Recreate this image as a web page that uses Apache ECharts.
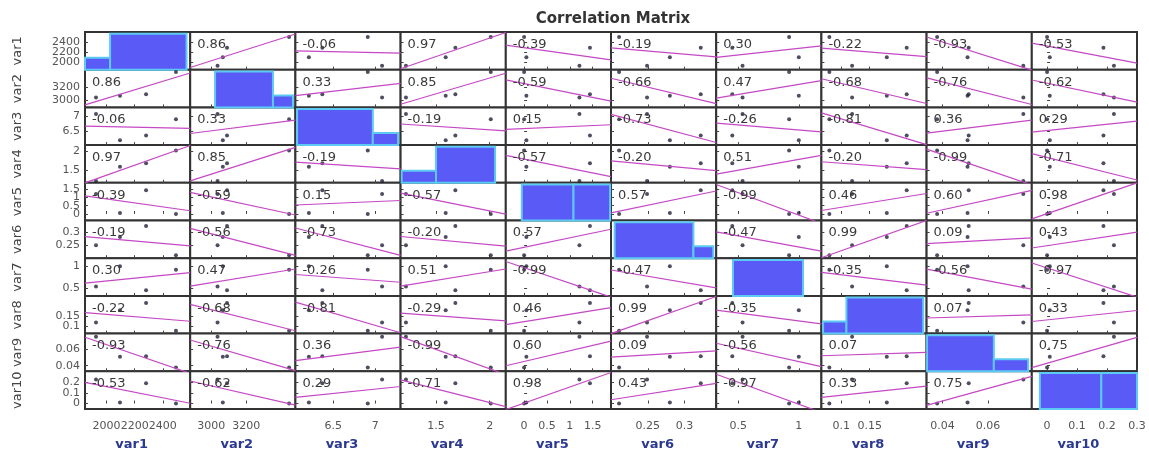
<!DOCTYPE html>
<html>
<head>
<meta charset="UTF-8">
<title>Correlation Matrix</title>
<script src="https://cdn.jsdelivr.net/npm/echarts@6/dist/echarts.min.js"></script>
</head>
<body style="margin:0;background:#fff">
<div id="main" style="width:1149px;height:454px;"></div>
<script>
var names = ['var1','var2','var3','var4','var5','var6','var7','var8','var9','var10'];

// four observations of every variable
var var1  = [1926, 2096, 2281, 2493];
var var2  = [3036, 3066, 3090, 3444];
var var3  = [7.08, 6.21, 6.37, 6.91];
var var4  = [1.22, 1.59, 1.68, 2.01];
var var5  = [1.21, 0.05, 1.44, 0.0];
var var6  = [0.249, 0.280, 0.322, 0.211];
var var7  = [0.535, 1.0, 0.45, 0.92];
var var8  = [0.119, 0.180, 0.215, 0.079];
var var9  = [0.0754, 0.0510, 0.0515, 0.0377];
var var10 = [0.223, 0.009, 0.188, 0.0];
var vars = [var1, var2, var3, var4, var5, var6, var7, var8, var9, var10];

// axis limits and tick labels
var axisMin = [1848, 2880, 6.05, 1.17, -0.4, 0.2, 0.317, 0.065, 0.0331, -0.051];
var axisMax = [2594, 3480, 7.3, 2.15, 1.9, 0.343, 1.187, 0.25, 0.0791, 0.30];
var xTicks = [[2000,2200,2400],[3000,3200],[6.5,7],[1.5,2],[0,0.5,1,1.5],[0.25,0.3],[0.5,1],[0.1,0.15],[0.04,0.06],[0,0.1,0.2,0.3]];
var yTicks = [[2000,2200,2400],[3000,3200],[6.5,7],[1.5,2],[0,0.5,1,1.5],[0.25,0.3],[0.5,1],[0.1,0.15],[0.04,0.06],[0,0.1,0.2]];

// correlation labels as printed
var corr = [
  [1, 0.86, -0.06, 0.97, -0.39, -0.19, 0.30, -0.22, -0.93, -0.53],
  [0.86, 1, 0.33, 0.85, -0.59, -0.66, 0.47, -0.68, -0.76, -0.62],
  [-0.06, 0.33, 1, -0.19, 0.15, -0.73, -0.26, -0.81, 0.36, 0.29],
  [0.97, 0.85, -0.19, 1, -0.57, -0.20, 0.51, -0.20, -0.99, -0.71],
  [-0.39, -0.59, 0.15, -0.57, 1, 0.57, -0.99, 0.46, 0.60, 0.98],
  [-0.19, -0.56, -0.73, -0.20, 0.57, 1, -0.47, 0.99, 0.09, 0.43],
  [0.30, 0.47, -0.26, 0.51, -0.99, -0.47, 1, -0.35, -0.56, -0.97],
  [-0.22, -0.68, -0.81, -0.29, 0.46, 0.99, -0.35, 1, 0.07, 0.33],
  [-0.93, -0.76, 0.36, -0.99, 0.60, 0.09, -0.56, 0.07, 1, 0.75],
  [-0.53, -0.62, 0.29, -0.71, 0.98, 0.43, -0.97, 0.33, 0.75, 1]
];

// diagonal histograms: bin edges and counts
var histEdges = [
  [1848, 2026, 2568], [3022, 3352, 3466], [6.07, 6.97, 7.27], [1.18, 1.50, 2.05], [-0.05, 1.08, 1.88],
  [0.205, 0.312, 0.339], [0.456, 1.035], [0.068, 0.109, 0.244], [0.0333, 0.0625, 0.0775], [-0.024, 0.181, 0.30]
];
var histCounts = [[1,3],[3,1],[3,1],[1,3],[2,2],[3,1],[4],[1,3],[3,1],[2,2]];

var N = 10, L = 85, T = 32, CW = 105.2, CH = 37.7;
var FONT = 'DejaVu Sans';

function fmt(v) { return String(v); }

function tickLabel(show, ticks, margin) {
  return {
    show: show, customValues: ticks, formatter: fmt, hideOverlap: false,
    fontSize: 11, color: '#555', fontFamily: FONT, margin: margin
  };
}

var grids = [], xAxes = [], yAxes = [], series = [], graphics = [];

for (var i = 0; i < N; i++) {
  for (var j = 0; j < N; j++) {
    var g = i * N + j;
    grids.push({
      left: L + j * CW, top: T + i * CH, width: CW, height: CH,
      show: true, borderColor: '#333', borderWidth: 2, backgroundColor: '#fff'
    });
    xAxes.push({
      gridIndex: g, type: 'value', min: axisMin[j], max: axisMax[j],
      axisLine: {show: false}, splitLine: {show: false},
      axisTick: {show: true, inside: true, length: 3, customValues: xTicks[j], lineStyle: {color: '#444'}},
      axisLabel: tickLabel(i === N - 1, xTicks[j], 12)
    });
    if (i === j) {
      var maxC = Math.max.apply(null, histCounts[i]);
      yAxes.push({gridIndex: g, type: 'value', min: 0, max: maxC * 1.047, show: false});
      var bins = [];
      for (var b = 0; b < histCounts[i].length; b++) {
        bins.push([histEdges[i][b], histEdges[i][b + 1], histCounts[i][b]]);
      }
      series.push({
        type: 'custom', xAxisIndex: g, yAxisIndex: g, data: bins, silent: true,
        encode: {x: [0, 1], y: 2},
        renderItem: function (params, api) {
          var p0 = api.coord([api.value(0), 0]);
          var p1 = api.coord([api.value(1), api.value(2)]);
          return {
            type: 'rect',
            shape: {x: p0[0], y: p1[1], width: p1[0] - p0[0], height: p0[1] - p1[1]},
            style: {fill: '#5a5af6', stroke: '#5ccaf2', lineWidth: 2}
          };
        }
      });
    } else {
      yAxes.push({
        gridIndex: g, type: 'value', min: axisMin[i], max: axisMax[i],
        axisLine: {show: false}, splitLine: {show: false},
        axisTick: {show: true, inside: true, length: 3, customValues: yTicks[i], lineStyle: {color: '#444'}},
        axisLabel: {show: false}
      });
      var xs = vars[j], ys = vars[i];
      var pts = xs.map(function (x, k) { return [x, ys[k]]; });
      // least squares fit across the cell
      var mx = 0, my = 0;
      for (var k = 0; k < xs.length; k++) { mx += xs[k]; my += ys[k]; }
      mx /= xs.length; my /= ys.length;
      var sxy = 0, sxx = 0;
      for (k = 0; k < xs.length; k++) { sxy += (xs[k] - mx) * (ys[k] - my); sxx += (xs[k] - mx) * (xs[k] - mx); }
      var slope = sxy / sxx, icpt = my - slope * mx;
      series.push({
        type: 'line', xAxisIndex: g, yAxisIndex: g, silent: true, showSymbol: false, clip: true,
        data: [[axisMin[j], icpt + slope * axisMin[j]], [axisMax[j], icpt + slope * axisMax[j]]],
        lineStyle: {color: '#c548c5', width: 1.2}
      });
      series.push({
        type: 'scatter', xAxisIndex: g, yAxisIndex: g, silent: true, symbolSize: 4,
        data: pts, itemStyle: {color: '#22223a'}
      });
      graphics.push({
        type: 'text', x: L + j * CW + 7, y: T + i * CH + 12.5, z: 100,
        style: {text: corr[i][j].toFixed(2), fontSize: 13, fontFamily: FONT, fill: '#3a3a3a', textVerticalAlign: 'middle'}
      });
    }
  }
}

// left tick labels: crowded, so split every row over two label-only axes
for (i = 0; i < N; i++) {
  var even = yTicks[i].filter(function (v, n) { return n % 2 === 0; });
  var odd = yTicks[i].filter(function (v, n) { return n % 2 === 1; });
  [even, odd].forEach(function (vals, n) {
    yAxes.push({
      gridIndex: i * N, type: 'value', position: 'left', min: axisMin[i], max: axisMax[i],
      axisLine: {show: false}, splitLine: {show: false},
      axisTick: {show: i === 0, inside: true, length: 3, customValues: vals, lineStyle: {color: '#444'}},
      axisLabel: tickLabel(vals.length > 0, vals, 5)
    });
  });
}

for (i = 0; i < N; i++) {
  graphics.push({
    type: 'text', x: 18, y: T + i * CH + CH / 2, rotation: Math.PI / 2,
    style: {text: names[i], fontSize: 13, fontFamily: FONT, fill: '#444', textAlign: 'center', textVerticalAlign: 'middle'}
  });
  graphics.push({
    type: 'text', x: L + i * CW + CW / 2 - 6, y: 445,
    style: {text: names[i], fontSize: 13, fontWeight: 'bold', fontFamily: FONT, fill: '#2b3990', textAlign: 'center', textVerticalAlign: 'middle'}
  });
}
graphics.push({
  type: 'text', x: L + N * CW / 2 + 2, y: 19,
  style: {text: 'Correlation Matrix', fontSize: 15, fontWeight: 'bold', fontFamily: FONT, fill: '#333', textAlign: 'center', textVerticalAlign: 'middle'}
});

var chart = echarts.init(document.getElementById('main'));
chart.setOption({
  animation: false,
  backgroundColor: '#fff',
  grid: grids,
  xAxis: xAxes,
  yAxis: yAxes,
  series: series,
  graphic: graphics
});
</script>
</body>
</html>
